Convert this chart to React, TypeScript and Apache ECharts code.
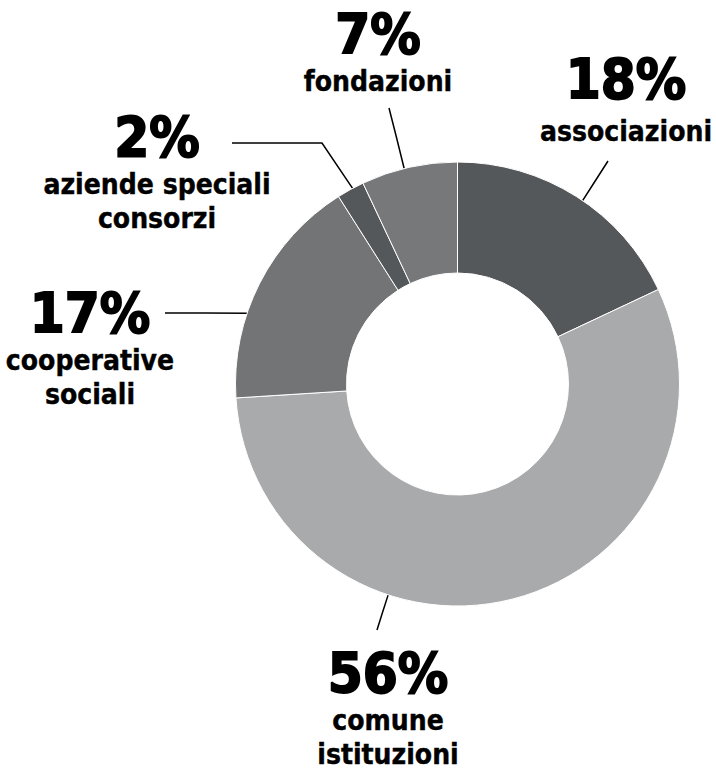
import React, { useEffect, useRef } from "react";
import * as echarts from "echarts";

// Data
const categories = ["associazioni", "comune\nistituzioni", "cooperative\nsociali", "aziende speciali\nconsorzi", "fondazioni"];
const values = [18, 56, 17, 2, 7];
const colors = ["#55585a", "#a9aaac", "#737476", "#55585a", "#77787a"];

// Layout (label anchor, leader line angle on outer edge and further points)
const CX = 457.5;
const CY = 384;
const R_IN = 111;
const R_OUT = 222;
const labelX = [626, 388, 90, 157, 378];
const labelY = [42, 641, 281, 105, 2];
const pLineHeight = [72, 62, 62, 62, 62];
const lineAngle = [34.3, 198.2, 288.6, 331.8, 346.1];
const linePoints: number[][][] = [
  [[595.5, 180.5], [608, 161]],
  [[382.5, 612.5], [377, 630]],
  [[205, 313], [165, 313]],
  [[322, 143], [232, 143]],
  [[396.5, 137.5], [389, 108]],
];

const FONT = "'DejaVu Sans Condensed', 'Liberation Sans Narrow', 'DejaVu Sans', sans-serif";

export default function App() {
  const ref = useRef<HTMLDivElement>(null);
  useEffect(() => {
    if (!ref.current) return;
    const chart = echarts.init(ref.current, null, { renderer: "svg" });
    const data = categories.map((name, i) => ({
      name,
      value: values[i],
      itemStyle: { color: colors[i] },
      label: { rich: { p: { lineHeight: pLineHeight[i] } } },
    }));
    chart.setOption({
      animation: false,
      backgroundColor: "#ffffff",
      series: [
        {
          type: "pie",
          center: [CX, CY],
          radius: [R_IN, R_OUT],
          startAngle: 90,
          clockwise: true,
          avoidLabelOverlap: false,
          itemStyle: { borderColor: "#ffffff", borderWidth: 1 },
          emphasis: { disabled: true },
          data,
          label: {
            show: true,
            position: "outside",
            align: "center",
            formatter: (p: any) => `{p|${p.value}%}\n` + String(p.name).split("\n").map((s: string) => `{n|${s}}`).join("\n"),
            rich: {
              p: { fontFamily: FONT, fontWeight: "bold", fontSize: 56, lineHeight: 62, color: "#000", align: "center", textBorderColor: "#000", textBorderWidth: 1.8 },
              n: { fontFamily: FONT, fontWeight: "bold", fontSize: 28, lineHeight: 34, color: "#000", align: "center", textBorderColor: "#000", textBorderWidth: 0.4 },
            },
          },
          labelLine: { show: true, smooth: false, lineStyle: { color: "#000", width: 1.5 } },
          labelLayout: (params: any) => {
            const i = params.dataIndex;
            const a = (lineAngle[i] * Math.PI) / 180;
            const sx = CX + R_OUT * Math.sin(a);
            const sy = CY - R_OUT * Math.cos(a);
            return {
              x: labelX[i],
              y: labelY[i],
              align: "center",
              verticalAlign: "top",
              labelLinePoints: [[sx, sy], ...linePoints[i]],
            };
          },
        },
      ],
    });
    return () => chart.dispose();
  }, []);
  return <div ref={ref} style={{ position: "absolute", left: 0, top: 0, width: 716, height: 773 }} />;
}
